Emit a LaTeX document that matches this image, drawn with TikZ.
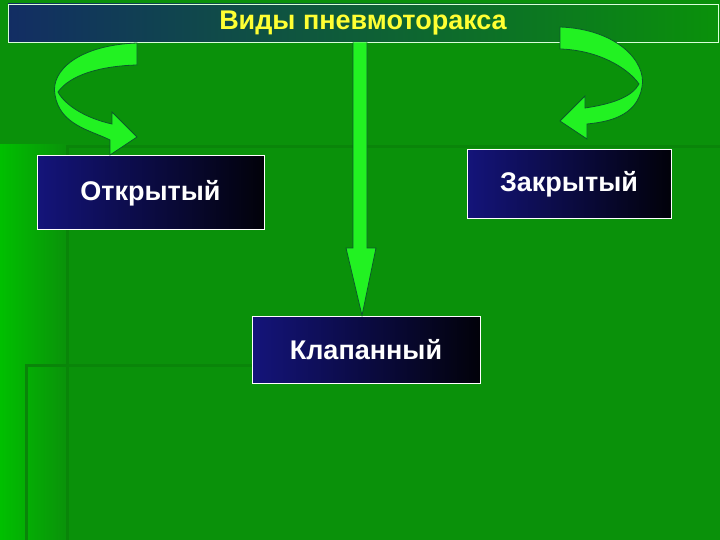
\documentclass[tikz,border=0pt]{standalone}
\usepackage{fontspec}
\setmainfont{Liberation Sans}
\begin{document}
\begin{tikzpicture}[x=1pt,y=-1pt,
  bx/.style={draw=white,line width=1pt,left color=navy,right color=black!92!navy,text=white,font=\bfseries\fontsize{27}{30}\selectfont,inner sep=0pt},
  arr/.style={fill=lgreen,draw=dgreen,line width=0.8pt}]
\definecolor{navy}{HTML}{14147A}
\definecolor{bg}{HTML}{0A910A}
\definecolor{lgreen}{HTML}{22F222}
\definecolor{dgreen}{HTML}{0B5A2A}
\definecolor{ttl}{HTML}{FFFF33}
\useasboundingbox (0,0) rectangle (720,540);
\fill[bg] (0,0) rectangle (720,540);
\shade[left color=green!75!black,right color=bg] (0,145) rectangle (68,540);
\fill[bg!92!black] (68,145) rectangle (720,148);
\fill[bg!92!black] (66,145) rectangle (69,540);
\fill[bg!92!black] (25,364) rectangle (252,367);
\fill[bg!92!black] (25,364) rectangle (28,540);
\node[bx,minimum width=227pt,minimum height=74pt] (open) at (150.5,193) {Открытый};
\node[bx,minimum width=204pt,minimum height=69pt] (closed) at (569,184.5) {Закрытый};
\node[bx,minimum width=228pt,minimum height=67pt] (valve) at (366,349.5) {Клапанный};
\node[draw=white!85!green,line width=0.8pt,left color=navy!80!bg,right color=bg,minimum width=710pt,minimum height=38pt,inner sep=0pt,text=ttl,font=\bfseries\fontsize{27}{30}\selectfont] (title) at (363,23) {Виды пневмоторакса};
% vertical arrow
\draw[arr] (title.south -| 353,0) -- (353,248) -- (346,248) -- (valve.north -| 362,0) -- (376,248) -- (367,248) -- (title.south -| 367,0);
% curved arrows
\draw[arr] (137,43) .. controls (80,45) and (50,70) .. (55,95) .. controls (60,125) and (90,130) .. (110,140) -- (110,155) -- (137,137) -- (112,112) -- (112,124) .. controls (85,118) and (65,105) .. (58,92) .. controls (70,75) and (100,66) .. (137,65) -- cycle;
\begin{scope}[xshift=697pt,xscale=-1,yshift=8pt]
\draw[arr] (137,35) .. controls (80,37) and (50,70) .. (55,95) .. controls (60,125) and (90,130) .. (110,132) -- (110,147) -- (137,129) -- (112,104) -- (112,116) .. controls (85,112) and (65,105) .. (58,92) .. controls (70,75) and (100,58) .. (137,57) -- cycle;
\end{scope}
\end{tikzpicture}
\end{document}
